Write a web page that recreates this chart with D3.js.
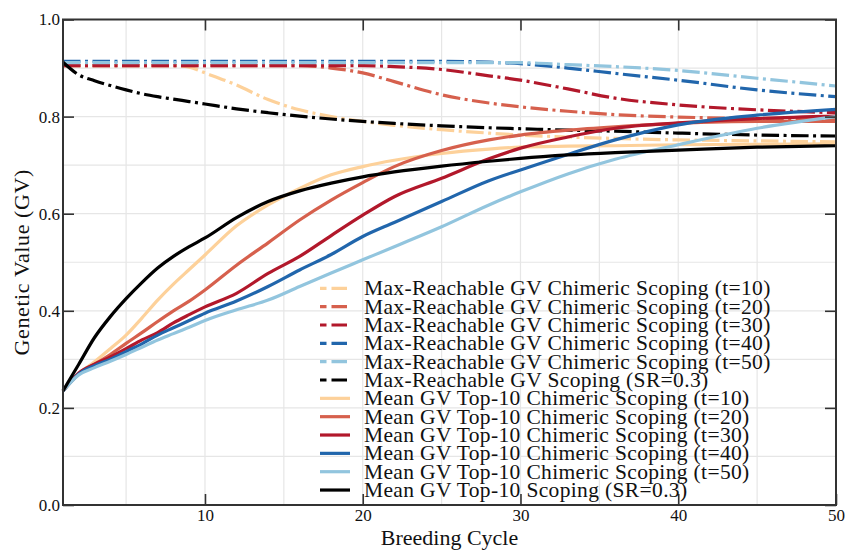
<!DOCTYPE html>
<html>
<head>
<meta charset="utf-8">
<script src="https://cdn.jsdelivr.net/npm/d3@7"></script>
<style>
  body { margin: 0; background: #fff; }
  text { font-family: "Liberation Serif", "DejaVu Serif", serif; fill: #111; }
</style>
</head>
<body>
<div id="chart"></div>
<script>
  // breeding cycles where values were read
  var cycles = [1,2,3,4,5,6,7,8,9,10,12,14,16,18,20,22,25,28,30,33,36,40,45,50];

  // max reachable GV (dash-dot lines)
  var maxT10 = [0.905,0.905,0.905,0.905,0.905,0.905,0.905,0.905,0.902,0.89,0.865,0.835,0.814,0.8,0.79,0.782,0.773,0.766,0.762,0.758,0.755,0.752,0.75,0.748];
  var maxT20 = [0.905,0.905,0.905,0.905,0.905,0.905,0.905,0.905,0.905,0.905,0.905,0.905,0.905,0.9,0.89,0.872,0.845,0.828,0.82,0.811,0.804,0.799,0.796,0.794];
  var maxT30 = [0.905,0.905,0.905,0.905,0.905,0.905,0.905,0.905,0.905,0.905,0.905,0.905,0.905,0.905,0.905,0.903,0.897,0.884,0.875,0.857,0.838,0.824,0.814,0.808];
  var maxT40 = [0.914,0.914,0.914,0.914,0.914,0.914,0.914,0.914,0.914,0.914,0.914,0.914,0.914,0.914,0.914,0.914,0.914,0.912,0.909,0.9,0.889,0.875,0.855,0.841];
  var maxT50 = [0.911,0.911,0.911,0.911,0.911,0.911,0.911,0.911,0.911,0.911,0.911,0.911,0.911,0.911,0.911,0.911,0.911,0.911,0.911,0.907,0.903,0.895,0.879,0.863];
  var maxScoping = [0.912,0.886,0.874,0.864,0.855,0.847,0.841,0.836,0.831,0.826,0.816,0.808,0.801,0.795,0.79,0.786,0.781,0.777,0.775,0.772,0.77,0.766,0.762,0.76];

  // mean GV of top-10 (solid lines)
  var meanT10 = [0.235,0.27,0.295,0.322,0.35,0.385,0.422,0.455,0.485,0.515,0.575,0.618,0.652,0.68,0.697,0.71,0.724,0.733,0.737,0.739,0.74,0.742,0.743,0.744];
  var meanT20 = [0.235,0.27,0.29,0.31,0.333,0.355,0.378,0.4,0.42,0.443,0.494,0.54,0.587,0.628,0.664,0.697,0.73,0.752,0.762,0.772,0.779,0.786,0.79,0.79];
  var meanT30 = [0.235,0.272,0.29,0.305,0.322,0.34,0.355,0.375,0.392,0.408,0.436,0.477,0.512,0.555,0.597,0.635,0.673,0.713,0.735,0.758,0.776,0.787,0.796,0.801];
  var meanT40 = [0.235,0.27,0.287,0.3,0.316,0.332,0.35,0.365,0.38,0.395,0.42,0.45,0.484,0.516,0.553,0.582,0.625,0.668,0.69,0.722,0.752,0.783,0.803,0.815];
  var meanT50 = [0.235,0.268,0.283,0.296,0.31,0.325,0.34,0.353,0.366,0.38,0.402,0.422,0.45,0.478,0.505,0.532,0.573,0.618,0.645,0.682,0.712,0.742,0.776,0.8];
  var meanScoping = [0.235,0.29,0.345,0.388,0.425,0.458,0.488,0.512,0.532,0.55,0.592,0.625,0.647,0.663,0.676,0.686,0.698,0.708,0.714,0.721,0.726,0.731,0.737,0.74];

  var labels = [
    "Max-Reachable GV Chimeric Scoping (t=10)",
    "Max-Reachable GV Chimeric Scoping (t=20)",
    "Max-Reachable GV Chimeric Scoping (t=30)",
    "Max-Reachable GV Chimeric Scoping (t=40)",
    "Max-Reachable GV Chimeric Scoping (t=50)",
    "Max-Reachable GV Scoping (SR=0.3)",
    "Mean GV Top-10 Chimeric Scoping (t=10)",
    "Mean GV Top-10 Chimeric Scoping (t=20)",
    "Mean GV Top-10 Chimeric Scoping (t=30)",
    "Mean GV Top-10 Chimeric Scoping (t=40)",
    "Mean GV Top-10 Chimeric Scoping (t=50)",
    "Mean GV Top-10 Scoping (SR=0.3)"
  ];
  var seriesValues = [maxT10, maxT20, maxT30, maxT40, maxT50, maxScoping,
                      meanT10, meanT20, meanT30, meanT40, meanT50, meanScoping];
  var colors = ["#fdd19a", "#d6604d", "#b2182b", "#2166ac", "#92c5de", "#000000",
                "#fdd19a", "#d6604d", "#b2182b", "#2166ac", "#92c5de", "#000000"];

  var xTicks = [10, 20, 30, 40, 50];
  var yTicks = [0.0, 0.2, 0.4, 0.6, 0.8, 1.0];

  var margin = {top: 19.5, right: 9, bottom: 46, left: 63},
      width = 845 - margin.left - margin.right,
      height = 551 - margin.top - margin.bottom;

  var svg = d3.select("#chart")
    .append("svg")
    .attr("width", 845)
    .attr("height", 551)
    .append("g")
    .attr("transform", "translate(" + margin.left + "," + margin.top + ")");

  var x = d3.scaleLinear().domain([1, 50]).range([0, width]);
  var y = d3.scaleLinear().domain([0, 1]).range([height, 0]);

  // grid
  svg.append("g")
    .selectAll("line")
    .data(d3.range(5, 51, 5))
    .enter().append("line")
    .attr("x1", function(d) { return x(d); })
    .attr("x2", function(d) { return x(d); })
    .attr("y1", 0).attr("y2", height)
    .style("stroke", "#e6e6e6").style("stroke-width", 1.2);

  svg.append("g")
    .selectAll("line")
    .data(d3.range(1, 10).map(function(i) { return i / 10; }))
    .enter().append("line")
    .attr("y1", function(d) { return y(d); })
    .attr("y2", function(d) { return y(d); })
    .attr("x1", 0).attr("x2", width)
    .style("stroke", "#e6e6e6").style("stroke-width", 1.2);

  // series
  var line = d3.line()
    .curve(d3.curveMonotoneX)
    .x(function(d) { return x(d[0]); })
    .y(function(d) { return y(d[1]); });

  var data = seriesValues.map(function(vals, i) {
    return { name: labels[i], color: colors[i], dashed: i < 6,
             points: cycles.map(function(c, j) { return [c, vals[j]]; }) };
  });

  svg.append("g")
    .selectAll("path")
    .data(data)
    .enter().append("path")
    .attr("d", function(d) { return line(d.points); })
    .style("fill", "none")
    .style("stroke", function(d) { return d.color; })
    .style("stroke-width", 3.2)
    .style("stroke-dasharray", function(d) { return d.dashed ? "17.5,4.5,3,4.5" : null; });

  // axes: ticks inside, frame all round
  var tickLen = 11;
  svg.append("g")
    .attr("transform", "translate(0," + height + ")")
    .call(d3.axisBottom(x).tickValues(xTicks).tickSizeInner(-tickLen).tickSizeOuter(0).tickPadding(4))
    .call(function(g) { g.select(".domain").remove(); });

  svg.append("g")
    .call(d3.axisTop(x).tickValues(xTicks.slice(0, 4)).tickSizeInner(-tickLen).tickSizeOuter(0).tickFormat(""))
    .call(function(g) { g.select(".domain").remove(); });

  svg.append("g")
    .call(d3.axisLeft(y).tickValues(yTicks).tickFormat(d3.format(".1f")).tickSizeInner(-tickLen).tickSizeOuter(0).tickPadding(3))
    .call(function(g) { g.select(".domain").remove(); });

  svg.append("g")
    .attr("transform", "translate(" + width + ",0)")
    .call(d3.axisRight(y).tickValues(yTicks).tickSizeInner(-tickLen).tickSizeOuter(0).tickFormat(""))
    .call(function(g) { g.select(".domain").remove(); });

  svg.selectAll(".tick line").style("stroke", "#333").style("stroke-width", 1.6);
  svg.selectAll(".tick text").style("font-size", "17px").style("fill", "#111");

  svg.append("rect")
    .attr("width", width).attr("height", height)
    .style("fill", "none").style("stroke", "#333").style("stroke-width", 2);

  // axis titles
  svg.append("text")
    .attr("x", width / 2).attr("y", height + 40)
    .attr("text-anchor", "middle")
    .style("font-size", "22px")
    .text("Breeding Cycle");

  svg.append("text")
    .attr("transform", "translate(-34," + (height / 2) + ") rotate(-90)")
    .attr("text-anchor", "middle")
    .style("font-size", "22px")
    .style("letter-spacing", "0.6px")
    .text("Genetic Value (GV)");

  // legend
  var legend = svg.append("g")
    .attr("transform", "translate(" + (320 - margin.left) + "," + (288.3 - margin.top) + ")");

  var item = legend.selectAll("g")
    .data(data)
    .enter().append("g")
    .attr("transform", function(d, i) { return "translate(0," + i * 18.34 + ")"; });

  item.append("line")
    .attr("x1", 0).attr("x2", function(d) { return d.dashed ? 27 : 30; })
    .style("stroke", function(d) { return d.color; })
    .style("stroke-width", 3.2)
    .style("stroke-dasharray", function(d) { return d.dashed ? "6.5,5,15.5,10" : null; });

  item.append("text")
    .attr("x", 44)
    .attr("dy", "0.33em")
    .style("font-size", "21.5px")
    .style("letter-spacing", "0.35px")
    .text(function(d) { return d.name; });
</script>
</body>
</html>
